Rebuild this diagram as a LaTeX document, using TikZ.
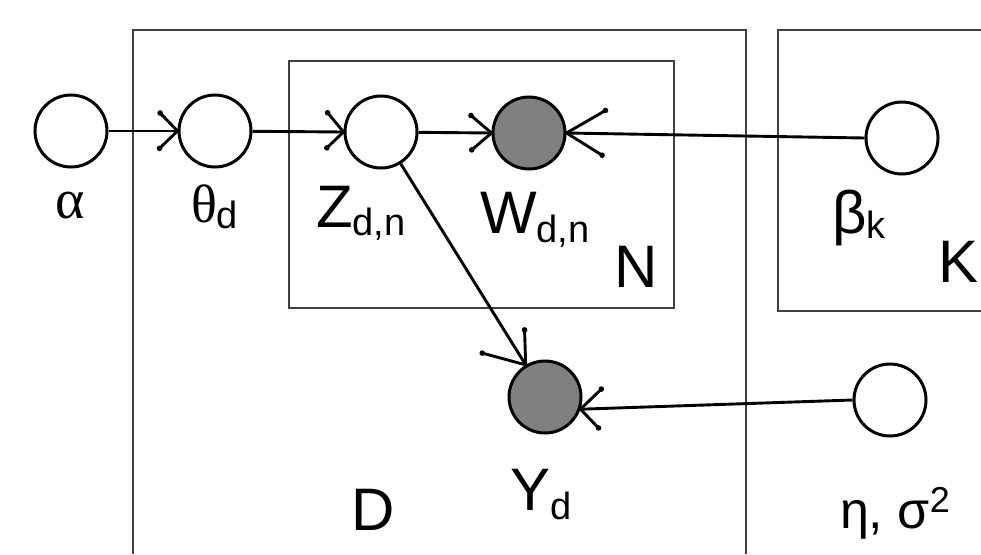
\documentclass[tikz,border=0pt]{standalone}
\usepackage{fontspec}
\setmainfont{Liberation Sans}
\newfontfamily\grserif{Liberation Serif}
\usetikzlibrary{calc}
\definecolor{obsgray}{HTML}{808080}
\definecolor{plategray}{HTML}{404040}
\newcommand\lblsub[3][-8pt]{#2\raisebox{#1}{\fontsize{38}{40}\selectfont #3}}
% tip, from, len1, ang1, len2, ang2
\newcommand\barbs[6]{%
  \draw[conn] ($(#1)!#3!#4:(#2)$) coordinate (bA) -- (#1) -- ($(#1)!#5!#6:(#2)$) coordinate (bB);
  \fill (bA) circle (2.8) (bB) circle (2.8);}
\begin{document}
\begin{tikzpicture}[x=1pt,y=-1pt,
  var/.style={circle, draw, line width=3pt, minimum size=72pt, inner sep=0pt, fill=white},
  obs/.style={var, fill=obsgray},
  conn/.style={line width=2.9pt},
  plate/.style={line width=1.5pt, draw=plategray},
  lbl/.style={anchor=base west, inner sep=0pt, outer sep=0pt, font=\fontsize{60}{60}\selectfont}]
\useasboundingbox (0,0) rectangle (981,554);
\fill[white] (0,0) rectangle (981,554);
% plates
\draw[plate] (133,554) -- (133,30) -- (746,30) -- (746,554);
\draw[plate] (289,61) rectangle (674,308);
\draw[plate] (981,30) -- (778,30) -- (778,311) -- (981,311);
% nodes
\node[var] (alpha) at (71,131) {};
\node[var] (theta) at (215,131) {};
\node[var] (Z) at (381,132) {};
\node[obs] (W) at (529,133) {};
\node[obs] (Y) at (545,397) {};
\node[var] (beta) at (902,138) {};
\node[var] (eta) at (890,400) {};
% connectors
\draw[conn] (alpha) -- (theta.west);
\barbs{theta.west}{alpha}{25pt}{-46}{25pt}{44}
\draw[conn] (theta) -- (Z.west);
\barbs{Z.west}{theta}{25pt}{-50}{23pt}{44}
\draw[conn] (Z) -- (W.west);
\barbs{W.west}{Z}{27pt}{-40}{26pt}{41}
\draw[conn] (beta.west) -- (W.east);
\barbs{W.east}{beta.west}{45pt}{31}{42pt}{-31}
\draw[conn] (Z) -- (Y.121.75);
\barbs{Y.121.75}{Z}{35pt}{-30}{45pt}{43}
\draw[conn] (eta.west) -- (Y.-19);
\barbs{Y.-19}{eta.west}{29pt}{42}{26pt}{-48}
% labels
\node[lbl, font=\fontsize{56}{56}\selectfont] (la) at (55,218) {\grserif α};
\node[lbl, font=\fontsize{54}{54}\selectfont] (lth) at (191,222) {\grserif θ\normalfont\lblsub[-6pt]{}{d}};
\node[lbl] (lz) at (316,227) {\lblsub{Z}{d,n}};
\node[lbl] (lw) at (480,233) {\lblsub[-9pt]{W}{d,n}};
\node[lbl] (ln) at (614,287) {N};
\node[lbl] (lb) at (832,233) {\lblsub[-5pt]{β}{k}};
\node[lbl] (lk) at (938,282) {K};
\node[lbl] (ly) at (510,510) {\lblsub[-9pt]{Y}{d}};
\node[lbl] (ld) at (351,530) {D};
\node[lbl, font=\fontsize{52}{52}\selectfont] (le) at (840,528) {η, σ\raisebox{16pt}{\fontsize{36}{38}\selectfont 2}};
\end{tikzpicture}
\end{document}
